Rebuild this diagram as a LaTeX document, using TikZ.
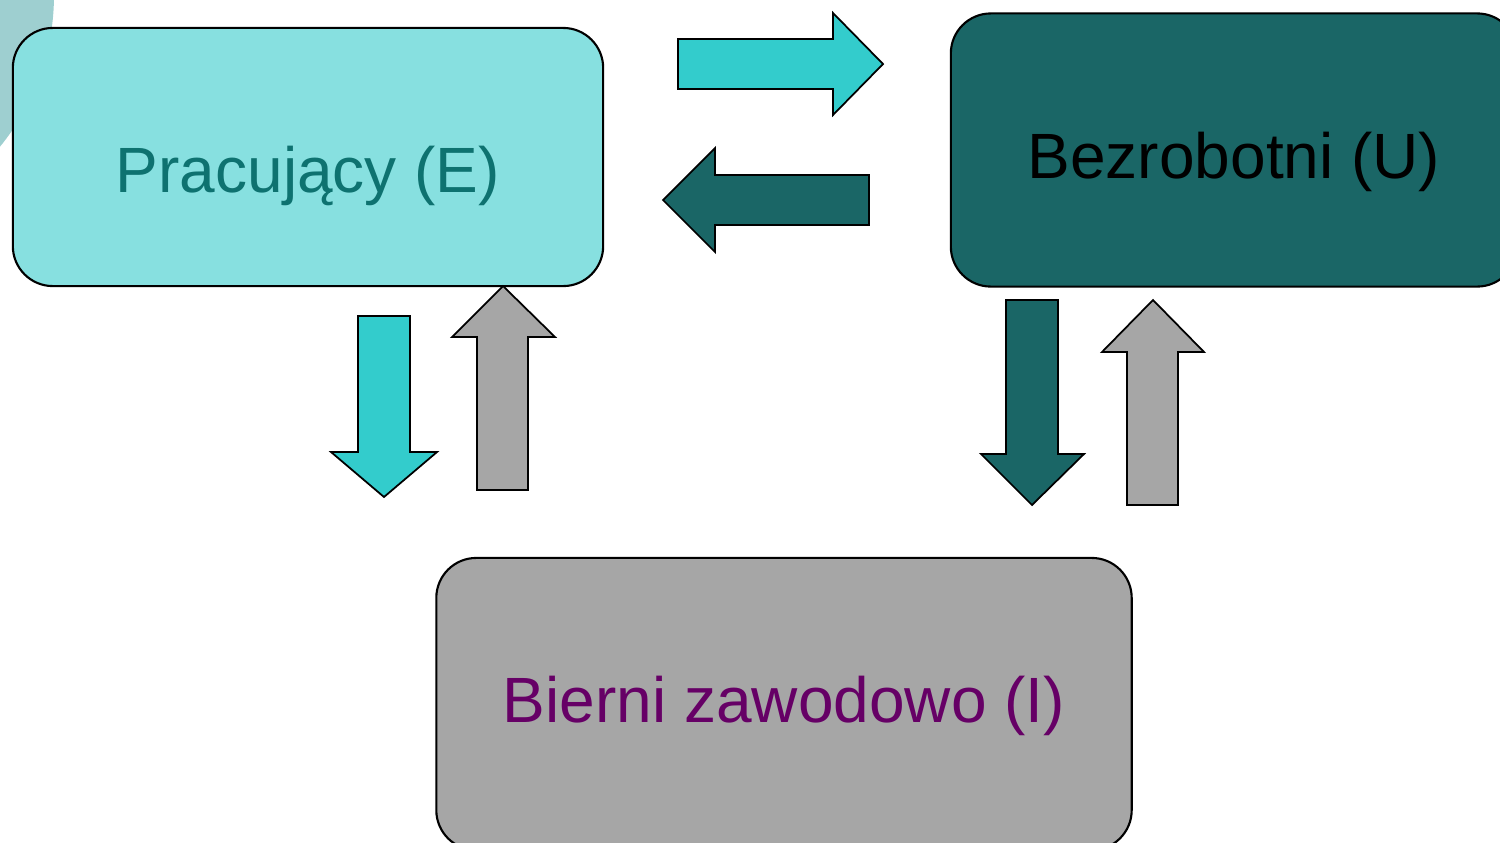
\documentclass[tikz,border=0pt]{standalone}
\usepackage{fontspec}
\setmainfont{Liberation Sans}
\usepackage{tikz}
\usetikzlibrary{positioning}
\definecolor{Ecol}{HTML}{87E0E0}
\definecolor{Etext}{HTML}{0E7270}
\definecolor{Ucol}{HTML}{1A6666}
\definecolor{Icol}{HTML}{A6A6A6}
\definecolor{Itext}{HTML}{660066}
\definecolor{cyancol}{HTML}{33CCCC}
\definecolor{bgcol}{HTML}{9ECFD0}
\tikzset{
  state/.style={draw=black,line width=0.6pt,rounded corners=0.4cm,
    font=\fontsize{18.2}{21}\selectfont,text depth=0pt},
  flow/.style={draw=black,line width=0.5pt}
}

\begin{document}
\begin{tikzpicture}[x=0.01cm,y=-0.01cm]
  \useasboundingbox (0,0) rectangle (1500,842);
  \clip (0,0) rectangle (1500,842);
  % background decoration
  \fill[bgcol] (-186,-5) circle (240);
  % states
  \node[state,fill=Ecol,text=Etext,text height=0.7cm,
    minimum width=5.9cm,minimum height=2.58cm]
    (emp) at (308,157) {Pracujący (E)};
  \node[state,fill=Ucol,text=black,text height=0.57cm,
    minimum width=5.66cm,minimum height=2.73cm]
    (unemp) at (1234,150) {Bezrobotni (U)};
  \node[state,fill=Icol,text=Itext,text height=0.36cm,
    minimum width=6.95cm,minimum height=2.92cm]
    (inact) at (784,704) {Bierni zawodowo (I)};
  % flows E <-> U
  \filldraw[flow,fill=cyancol] (678,39) -- (833,39) -- (833,13) -- (883,64)
    -- (833,115) -- (833,89) -- (678,89) -- cycle;
  \filldraw[flow,fill=Ucol] (869,175) -- (715,175) -- (715,148) -- (663,200)
    -- (715,252) -- (715,225) -- (869,225) -- cycle;
  % flows E <-> I
  \filldraw[flow,fill=cyancol] (358,316) -- (410,316) -- (410,452) -- (437,452)
    -- (384,497) -- (331,452) -- (358,452) -- cycle;
  \filldraw[flow,fill=Icol] (477,490) -- (477,337) -- (452,337) -- (503,286)
    -- (555,337) -- (528,337) -- (528,490) -- cycle;
  % flows U <-> I
  \filldraw[flow,fill=Ucol] (1006,300) -- (1058,300) -- (1058,454) -- (1084,454)
    -- (1032,505) -- (981,454) -- (1006,454) -- cycle;
  \filldraw[flow,fill=Icol] (1127,505) -- (1127,352) -- (1102,352) -- (1153,300)
    -- (1204,352) -- (1178,352) -- (1178,505) -- cycle;
\end{tikzpicture}
\end{document}
